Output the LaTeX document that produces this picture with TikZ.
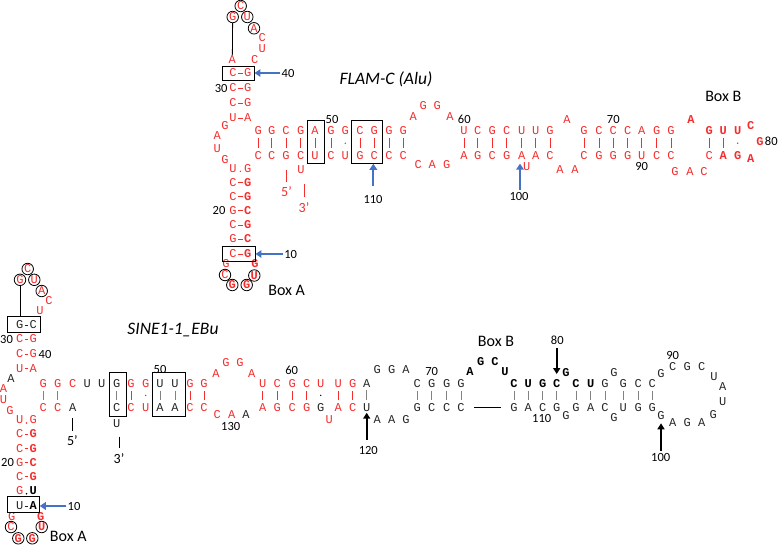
\documentclass[tikz,border=0pt]{standalone}
\usepackage{fontspec}
\setmainfont{Carlito}
\newfontfamily\seqfont{Liberation Mono}
\usetikzlibrary{arrows.meta,decorations.markings}
\definecolor{nred}{RGB}{245,45,45}
\definecolor{nblue}{RGB}{68,114,196}
\definecolor{ngray}{RGB}{130,130,130}
\newcommand\seqsz{\seqfont\fontsize{12}{14}\selectfont}

\begin{document}
\begin{tikzpicture}[x=1pt, y=-1pt,
  nr/.style={font=\seqsz, inner sep=0pt, text=nred},
  nrb/.style={nr, font=\seqsz\bfseries},
  nk/.style={nr, text=black!85},
  nkb/.style={nrb, text=black},
  ring/.style={circle, draw, line width=0.8pt, minimum size=11.5pt},
  num/.style={font=\fontsize{12.5}{14}\selectfont, inner sep=1pt},
  boxlab/.style={font=\fontsize{16}{18}\selectfont, inner sep=0pt},
  ttl/.style={font=\fontsize{17.5}{20}\selectfont\itshape, inner sep=0pt},
  endlab/.style={font=\fontsize{14}{16}\selectfont, inner sep=0pt},
  bar/.style={nred, line width=0.6pt, shorten <=3pt, shorten >=3pt},
  gbar/.style={bar, ngray},
  hd/.style={nred, line width=0.6pt, shorten <=1pt, shorten >=1pt},
  hdk/.style={hd, black!85},
  wob/.style={draw=none, postaction={decorate}, decoration={markings,
    mark=at position .5 with {\fill[nred] (0,0) circle (0.8pt);}}},
  kwob/.style={draw=none, postaction={decorate}, decoration={markings,
    mark=at position .5 with {\fill[black] (0,0) circle (0.7pt);}}},
  vwob/.style={draw=none, postaction={decorate}, decoration={markings,
    mark=at position .5 with {\fill[nred] (0,-3pt) circle (0.8pt);}}},
  vwobk/.style={draw=none, postaction={decorate}, decoration={markings,
    mark=at position .5 with {\fill[black] (0,-3pt) circle (0.8pt);}}},
  pbox/.style={draw, line width=0.9pt, inner sep=0pt},
  stick/.style={line width=0.8pt},
  endtick/.style={line width=0.9pt},
  barrow/.style={nblue, line width=2pt, -{Triangle[length=6pt,width=7.5pt]}},
  karrow/.style={black, line width=2.2pt, -{Triangle[length=6pt,width=7pt]}}]
\useasboundingbox (0,0) rectangle (778,546);

% FLAM-C (Alu)
\node[ttl] (tname) at (386,79) {FLAM-C (Alu)};

\foreach \x/\y/\a/\s [count=\i] in {240.7/6/C/nr, 232.7/17/G/nr, 247.3/17/U/nr, 254/28.3/A/nr,
    225/275/C/nr, 232.3/285/G/nrb, 246.7/285/G/nrb, 254.3/275.5/U/nrb}
  \node[ring,\s] (tc\i) at (\x,\y) {\a};

\foreach \y/\a/\sa/\b/\sb/\p [count=\i] in {73/C/nr/G/nr/hd, 88/C/nr/G/nr/hd, 103/C/nr/G/nr/hd,
    118/U/nr/A/nr/hd, 168.3/U/nr/G/nr/vwob, 182.7/C/nr/G/nrb/hd, 196.7/C/nr/G/nrb/hd,
    210.7/G/nr/C/nrb/hd, 225/C/nr/G/nrb/hd, 239/G/nr/C/nrb/hd, 254/C/nr/G/nrb/hd}{
  \node[\sa] (tl\i) at (233,\y) {\a};
  \node[\sb] (tr\i) at (247.7,\y) {\b};
  \draw[\p] (tl\i) -- (tr\i);
}

\foreach \x/\a/\sa/\b/\sb/\p [count=\i] in {258.3/G/nr/C/nr/bar, 271.7/G/nr/C/nr/bar,
    286/C/nr/G/nr/bar, 300.7/G/nr/C/nr/bar, 315/A/nr/U/nr/bar, 331/G/nr/C/nr/bar,
    345.3/G/nr/U/nr/wob, 360/C/nr/G/nr/bar, 374.3/G/nr/C/nr/bar, 389/G/nr/C/nr/bar,
    403.3/G/nr/C/nr/bar, 464/U/nr/A/nr/bar, 477.7/C/nr/G/nr/bar, 492.3/G/nr/C/nr/bar,
    506.7/C/nr/G/nr/bar, 521.7/U/nr/A/nr/bar, 535.7/U/nr/A/nr/bar, 550/G/nr/C/nr/bar,
    584/G/nr/C/nr/bar, 599/C/nr/G/nr/bar, 613.3/C/nr/G/nr/bar, 627.7/C/nr/G/nr/bar,
    641.7/A/nr/U/nr/bar, 656.7/G/nr/C/nr/bar, 671/G/nr/C/nr/bar,
    709.3/G/nrb/C/nr/bar, 723.3/U/nrb/A/nrb/bar, 737.7/U/nrb/G/nrb/wob}{
  \node[\sa] (th\i) at (\x,131) {\a};
  \node[\sb] (tb\i) at (\x,155.5) {\b};
  \draw[\p] (th\i) -- (tb\i);
}

\foreach \x/\y/\a/\s [count=\i] in {262.3/37.3/C/nr, 262.3/48.3/U/nr, 232.3/59.3/A/nr,
    254.7/59.3/C/nr, 225/126/G/nr, 217.3/136/A/nr, 217.3/148.3/U/nr, 225/159.3/G/nr,
    226/264/G/nr, 255/264/G/nrb, 301/169.3/U/nr,
    413.3/116.7/A/nr, 423.3/106/G/nr, 437.3/106/G/nr, 450/116.7/A/nr,
    418.3/165/C/nr, 432.3/165/A/nr, 446.7/165/G/nr, 526.7/166.7/U/nr,
    567/119.3/A/nr, 560/169.3/A/nr, 575/169.3/A/nr, 675/171.7/G/nr, 690/171.7/A/nr,
    704/171.7/C/nr, 691/119.3/A/nrb, 750.7/126/C/nrb, 760/141.7/G/nrb, 750.7/158.3/A/nrb}
  \node[\s] (tu\i) at (\x,\y) {\a};

\draw[stick] (tc2) -- (tu3);

\node[pbox, minimum width=32pt, minimum height=14pt] (bxT40) at (238,73) {};
\node[pbox, minimum width=33pt, minimum height=15.5pt] (bxTA) at (238.5,254) {};
\node[pbox, minimum width=16.3pt, minimum height=43.3pt] (bxT50) at (315.8,141.7) {};
\node[pbox, minimum width=31pt, minimum height=43pt] (bxT110) at (367.2,141.8) {};

\node[num] (n40t) at (288,73) {40};
\node[num] (n30t) at (221.2,88) {30};
\node[num] (n20t) at (219,210.7) {20};
\node[num] (n10t) at (290.7,254) {10};
\node[num] (n50t) at (332,119) {50};
\node[num] (n110t) at (373,199.3) {110};
\node[num] (n60t) at (464.3,119.3) {60};
\node[num] (n100t) at (519,196) {100};
\node[num] (n70t) at (613.3,119.3) {70};
\node[num] (n90t) at (641.7,166) {90};
\node[num] (n80t) at (771.3,141.7) {80};
\node[boxlab] (boxAt) at (286.7,290) {Box A};
\node[boxlab] (boxBt) at (723.3,96) {Box B};
\node[endlab, text=nred] (e5t) at (286.5,191.7) {5'};
\node[endlab, text=nred] (e3t) at (304,207.3) {3'};

\coordinate (t5) at (286.7,170);
\coordinate (t3) at (304,184);
\draw[endtick, nred, shorten >=5pt] (t5) -- (t5 |- e5t.north);
\draw[endtick, nred, shorten >=5pt] (t3) -- (t3 |- e3t.north);

\coordinate (a110t) at (373.3,186);
\coordinate (a100t) at (520,190);
\draw[barrow] (n40t.west) -- (n40t.west -| bxT40.east);
\draw[barrow] (n10t.west) -- (n10t.west -| bxTA.east);
\draw[barrow] (a110t) -- (a110t |- bxT110.south);
\draw[barrow, shorten >=4pt] (a100t) -- (a100t |- tb16.south);

% SINE1-1_EBu
\node[ttl] (bname) at (173,330) {SINE1-1\_EBu};

\foreach \x/\y/\a/\s [count=\i] in {27.7/269/C/nr, 20/279.8/G/nr, 34.3/279.8/U/nr, 41.7/291/A/nr,
    11/527/C/nr, 18.3/538.3/G/nrb, 32.3/538.3/G/nrb, 41.7/527/U/nrb}
  \node[ring,\s] (bc\i) at (\x,\y) {\a};

\foreach \y/\a/\sa/\b/\sb/\p [count=\i] in {325/G/nk/C/nk/hdk, 339/C/nr/G/nr/hd, 354/C/nr/G/nr/hd,
    368.3/U/nr/A/nr/hd, 420/U/nr/G/nr/vwob, 434/C/nr/G/nrb/hd, 448.3/C/nr/G/nrb/hd,
    462.7/G/nr/C/nrb/hd, 476.7/C/nr/G/nrb/hd, 490.7/G/nr/U/nkb/vwobk, 506/U/nk/A/nkb/hdk}{
  \node[\sa] (bl\i) at (19.7,\y) {\a};
  \node[\sb] (br\i) at (33.3,\y) {\b};
  \draw[\p] (bl\i) -- (br\i);
}

\foreach \x/\a/\sa/\b/\sb/\p [count=\i] in {43.3/G/nr/C/nr/gbar, 57.7/G/nr/C/nr/gbar,
    116.7/G/nk/C/nk/gbar, 131/G/nr/C/nr/bar, 145.7/G/nr/U/nr/wob, 160/U/nk/A/nk/gbar,
    175/U/nk/A/nk/gbar, 190/G/nr/C/nr/bar, 204/G/nr/C/nr/bar, 262.7/U/nr/A/nr/bar,
    277.3/C/nr/G/nr/bar, 292.3/G/nr/C/nr/bar, 306.7/C/nr/G/nr/bar, 320.7/U/nr/G/nk/kwob,
    338.3/U/nr/A/nr/bar, 352.7/G/nr/C/nr/bar, 366.7/A/nk/U/nk/gbar, 417.3/C/nk/G/nk/gbar,
    431.7/G/nk/C/nk/gbar, 446.7/G/nk/C/nk/gbar, 461/G/nk/C/nk/gbar, 514/C/nkb/G/nk/gbar,
    528.3/U/nkb/A/nk/gbar, 542.7/G/nkb/C/nk/gbar, 556.7/C/nkb/G/nk/gbar, 576/C/nkb/G/nk/gbar,
    590.7/U/nkb/A/nk/gbar, 605/G/nk/C/nk/gbar, 623.3/G/nk/U/nk/gbar, 638.3/C/nk/G/nk/gbar,
    652.3/C/nk/G/nk/gbar}{
  \node[\sa] (bh\i) at (\x,383.3) {\a};
  \node[\sb] (bb\i) at (\x,407.5) {\b};
  \draw[\p] (bh\i) -- (bb\i);
}

\foreach \x/\y/\a/\s [count=\i] in {49/300.7/C/nr, 40/310.7/U/nr, 11/378.3/A/nk, 3.5/388.3/A/nr,
    3.5/399.3/U/nr, 10/410.7/G/nr, 11.7/516.5/G/nr, 40.7/516.5/G/nrb,
    72.7/383.3/C/nr, 72.7/407.5/A/nk, 87.3/383.3/U/nk, 101.7/383.3/U/nk, 116.7/423.3/U/nk,
    216/373.3/A/nr, 226/362.7/G/nr, 240/362.7/G/nr, 251.7/373.3/A/nr,
    217.3/415/C/nr, 231.7/415/A/nr, 246/415/A/nk, 329.3/420/U/nr,
    377.3/419.3/A/nk, 391.7/419.3/A/nk, 406/419.3/G/nk,
    377.3/370/G/nk, 391.7/370/G/nk, 406/370/A/nk,
    470/371.7/A/nkb, 480.7/361.7/G/nkb, 495/361.7/C/nkb, 505/371.7/U/nkb,
    566/372.7/G/nkb, 566/416/G/nk, 614/372.7/G/nk, 614/417.3/G/nk,
    661/373.3/G/nk, 672.7/366.7/C/nk, 687.3/366.7/G/nk, 701.7/366.7/C/nk, 714/376.7/U/nk,
    722.7/386.7/A/nk, 722.7/401.7/U/nk, 713.3/414.3/G/nk, 701.7/422.7/A/nk,
    687.3/422.7/G/nk, 672.7/422.7/A/nk, 661/416/G/nk}
  \node[\s] (bu\i) at (\x,\y) {\a};

\node[pbox, minimum width=33pt, minimum height=15.5pt] (bxB30) at (24.2,324.2) {};
\node[pbox, minimum width=32pt, minimum height=16pt] (bxB10) at (23.3,504.7) {};
\node[pbox, minimum width=16.7pt, minimum height=44pt] (bxB3) at (117.7,394) {};
\node[pbox, minimum width=32.3pt, minimum height=43.3pt] (bxB50) at (168.9,394.3) {};

\draw[stick] (bc2) -- (bc2 |- bxB30.north);
\draw[black, line width=0.8pt, shorten <=9.5pt, shorten >=9.5pt] (bb21.east) -- (bb22.west);

\node[num] (n30b) at (6.5,339) {30};
\node[num] (n40b) at (45,354) {40};
\node[num] (n20b) at (7.5,462.7) {20};
\node[num] (n10b) at (74,506) {10};
\node[num] (n50b) at (160,369.3) {50};
\node[num] (n130b) at (230.7,426.7) {130};
\node[num] (n60b) at (291.7,370.5) {60};
\node[num] (n120b) at (368.3,450.7) {120};
\node[num] (n70b) at (431.7,371.7) {70};
\node[num] (n80b) at (557.3,340) {80};
\node[num] (n110b) at (541.7,418.3) {110};
\node[num] (n90b) at (672.7,355) {90};
\node[num] (n100b) at (660.7,457.3) {100};
\node[boxlab] (boxAb) at (68.3,536.5) {Box A};
\node[boxlab] (boxBb) at (496,341.7) {Box B};
\node[endlab] (e5b) at (72.3,440.7) {5'};
\node[endlab] (e3b) at (119,458.3) {3'};

\coordinate (b5) at (72.3,418.3);
\coordinate (b3) at (119,436.7);
\draw[endtick, shorten >=5pt] (b5) -- (b5 |- e5b.north);
\draw[endtick, shorten >=5pt] (b3) -- (b3 |- e3b.north);

\coordinate (k120) at (366.7,440);
\coordinate (k80) at (556.7,348.3);
\coordinate (k100) at (661,450.7);
\draw[barrow] (n10b.west) -- (n10b.west -| bxB10.east);
\draw[karrow, shorten >=1pt] (k120) -- (bb17);
\draw[karrow, shorten >=5pt] (k80) -- (bh25);
\draw[karrow, shorten >=3pt] (k100) -- (bu47);
\end{tikzpicture}
\end{document}
